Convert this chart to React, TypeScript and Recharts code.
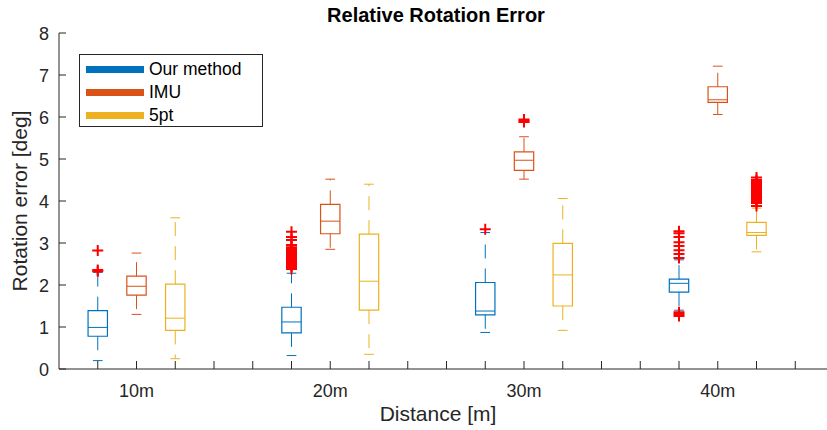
import React from "react";
import { ComposedChart, XAxis, YAxis, Scatter, ReferenceArea, ReferenceLine, Legend } from "recharts";

const categories = ["10m", "20m", "30m", "40m"];
const methods = ["Our method", "IMU", "5pt"];
const colors = ["#0072BD", "#D95319", "#EDB120"];
const yTicks = [0, 1, 2, 3, 4, 5, 6, 7, 8];
const xTicks = [1, 2, 3, 4, 5, 6, 7, 8, 9, 10, 11, 12, 13, 14, 15, 16, 17, 18, 19];

// box stats per distance (lower whisker, q1, median, q3, upper whisker)
const ourLow = [0.2, 0.32, 0.87, 1.4];
const ourQ1 = [0.78, 0.86, 1.29, 1.83];
const ourMed = [0.99, 1.12, 1.38, 2.04];
const ourQ3 = [1.39, 1.47, 2.06, 2.14];
const ourHigh = [2.3, 2.28, 3.25, 2.6];

const imuLow = [1.3, 2.85, 4.52, 6.06];
const imuQ1 = [1.76, 3.22, 4.73, 6.35];
const imuMed = [1.97, 3.52, 4.97, 6.41];
const imuQ3 = [2.21, 3.92, 5.17, 6.72];
const imuHigh = [2.76, 4.52, 5.53, 7.21];

const fptLow = [0.245, 0.35, 0.92, 2.79];
const fptQ1 = [0.92, 1.4, 1.5, 3.18];
const fptMed = [1.21, 2.09, 2.24, 3.25];
const fptQ3 = [2.02, 3.21, 2.99, 3.49];
const fptHigh = [3.6, 4.4, 4.06, 3.83];

// outliers per distance
const ourOut = [
  [2.33, 2.36, 2.82],
  [2.38, 2.43, 2.47, 2.5, 2.53, 2.56, 2.59, 2.62, 2.65, 2.68, 2.71, 2.74, 2.77, 2.8, 2.83, 2.86, 2.9, 2.95, 3.07, 3.14, 3.27],
  [3.33],
  [1.26, 1.31, 1.35, 2.64, 2.74, 2.83, 2.93, 3.02, 3.14, 3.23, 3.28],
];
const imuOut = [[], [], [5.88, 5.91, 5.94], []];
const fptOut = [
  [],
  [],
  [],
  [3.88, 3.95, 3.99, 4.02, 4.05, 4.08, 4.11, 4.14, 4.17, 4.2, 4.23, 4.26, 4.29, 4.32, 4.35, 4.38, 4.41, 4.45, 4.5, 4.56],
];

const stats = [
  [ourLow, ourQ1, ourMed, ourQ3, ourHigh, ourOut],
  [imuLow, imuQ1, imuMed, imuQ3, imuHigh, imuOut],
  [fptLow, fptQ1, fptMed, fptQ3, fptHigh, fptOut],
] as const;

const FONT = "'Liberation Sans', Arial, Helvetica, sans-serif";
const INK = "#262626";
const BOX_HALF = 0.25;
const CAP_HALF = 0.125;

const posOf = (g: number, m: number) => 1 + 5 * g + m;
const labelAt: Record<number, string> = {};
categories.forEach((c, g) => (labelAt[posOf(g, 1)] = c));

const boxes = categories.flatMap((_, g) =>
  methods.map((name, m) => {
    const [lo, q1, med, q3, hi] = stats[m];
    return { key: `${g}-${m}`, pos: posOf(g, m), lo: lo[g], q1: q1[g], med: med[g], q3: q3[g], hi: hi[g], color: colors[m] };
  })
);

const outliers = categories.flatMap((_, g) =>
  methods.flatMap((_, m) => (stats[m][5][g] as number[]).map((v) => ({ x: posOf(g, m), y: v })))
);

function BottomTick(props: any) {
  const { x, y, payload } = props;
  return (
    <g>
      <line x1={x} y1={y} x2={x} y2={y - 8} stroke={INK} strokeWidth={1} />
      <text x={x} y={y + 28} textAnchor="middle" fontSize={18} fontFamily={FONT} fill={INK}>
        {labelAt[payload.value] || ""}
      </text>
    </g>
  );
}

function TopTick(props: any) {
  const { x, y } = props;
  return <line x1={x} y1={y} x2={x} y2={y + 8} stroke={INK} strokeWidth={1} />;
}

function LeftTick(props: any) {
  const { x, y, payload } = props;
  return (
    <g>
      <line x1={x} y1={y} x2={x + 7} y2={y} stroke={INK} strokeWidth={1} />
      <text x={x - 10} y={y + 7} textAnchor="end" fontSize={18} fontFamily={FONT} fill={INK}>
        {payload.value}
      </text>
    </g>
  );
}

function Cross(props: any) {
  const { cx, cy } = props;
  const r = 5.5;
  return (
    <path d={`M${cx - r},${cy}H${cx + r}M${cx},${cy - r}V${cy + r}`} stroke="#FF0000" strokeWidth={2} fill="none" />
  );
}

function LegendBox() {
  return (
    <div
      style={{
        width: 184,
        height: 73,
        border: `1px solid ${INK}`,
        background: "#fff",
        boxSizing: "border-box",
        paddingTop: 3,
        fontFamily: FONT,
        fontSize: 17.5,
        color: "#000",
      }}
    >
      {methods.map((name, i) => (
        <div key={name} style={{ display: "flex", alignItems: "center", height: 23 }}>
          <div style={{ width: 58, height: 7, background: colors[i], marginLeft: 6, marginRight: 5 }} />
          <span>{name}</span>
        </div>
      ))}
    </div>
  );
}

export default function App() {
  return (
    <div style={{ position: "absolute", left: 0, top: 0, width: 827, height: 430, overflow: "hidden", background: "#fff" }}>
      <ComposedChart width={860} height={430} margin={{ top: 33, right: 26, left: 0, bottom: 0 }}>
        <XAxis
          xAxisId={0}
          type="number"
          dataKey="x"
          domain={[0, 20]}
          ticks={xTicks}
          interval={0}
          height={61}
          tickSize={0}
          tickMargin={0}
          tickLine={false}
          tick={<BottomTick />}
          stroke={INK}
        />
        <XAxis
          xAxisId="top"
          orientation="top"
          type="number"
          domain={[0, 20]}
          ticks={xTicks}
          interval={0}
          height={0}
          tickSize={0}
          tickMargin={0}
          tickLine={false}
          tick={<TopTick />}
          stroke="#5a5a5a"
        />
        <YAxis
          type="number"
          domain={[0, 8]}
          ticks={yTicks}
          interval={0}
          width={59}
          tickSize={0}
          tickMargin={0}
          tickLine={false}
          tick={<LeftTick />}
          stroke={INK}
        />
        {boxes.flatMap((b) => [
          <ReferenceLine
            key={`wu${b.key}`}
            segment={[{ x: b.pos, y: b.q3 }, { x: b.pos, y: b.hi }]}
            stroke={b.color}
            strokeDasharray="14 10"
          />,
          <ReferenceLine
            key={`wl${b.key}`}
            segment={[{ x: b.pos, y: b.q1 }, { x: b.pos, y: b.lo }]}
            stroke={b.color}
            strokeDasharray="14 10"
          />,
          <ReferenceLine
            key={`cu${b.key}`}
            segment={[{ x: b.pos - CAP_HALF, y: b.hi }, { x: b.pos + CAP_HALF, y: b.hi }]}
            stroke={b.color}
          />,
          <ReferenceLine
            key={`cl${b.key}`}
            segment={[{ x: b.pos - CAP_HALF, y: b.lo }, { x: b.pos + CAP_HALF, y: b.lo }]}
            stroke={b.color}
          />,
          <ReferenceArea
            key={`b${b.key}`}
            x1={b.pos - BOX_HALF}
            x2={b.pos + BOX_HALF}
            y1={b.q1}
            y2={b.q3}
            stroke={b.color}
            strokeWidth={1.2}
            fill="none"
            fillOpacity={0}
          />,
          <ReferenceLine
            key={`m${b.key}`}
            segment={[{ x: b.pos - BOX_HALF, y: b.med }, { x: b.pos + BOX_HALF, y: b.med }]}
            stroke={b.color}
          />,
        ])}
        <Scatter data={outliers} dataKey="y" shape={<Cross />} isAnimationActive={false} legendType="none" />
        <Legend
          layout="vertical"
          align="center"
          verticalAlign="middle"
          content={<LegendBox />}
          wrapperStyle={{ left: 79, top: 54, width: 184, height: 73 }}
        />
        <text x={436} y={22} textAnchor="middle" fontSize={20} fontWeight="bold" fontFamily={FONT} fill="#000">
          Relative Rotation Error
        </text>
        <text x={438} y={421} textAnchor="middle" fontSize={21} fontFamily={FONT} fill={INK}>
          Distance [m]
        </text>
        <text
          x={27}
          y={201}
          textAnchor="middle"
          fontSize={21}
          fontFamily={FONT}
          fill={INK}
          transform="rotate(-90, 27, 201)"
        >
          Rotation error [deg]
        </text>
      </ComposedChart>
    </div>
  );
}
